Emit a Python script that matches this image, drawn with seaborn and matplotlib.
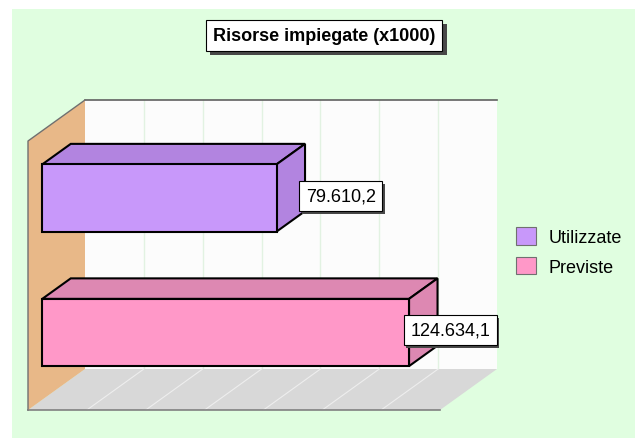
import matplotlib
matplotlib.use("Agg")
import matplotlib.pyplot as plt
import matplotlib.transforms as mtransforms
import matplotlib.patheffects as pe
from matplotlib.patches import Polygon, Rectangle, Patch
import numpy as np
import seaborn as sns

# data
categories = ["Utilizzate", "Previste"]
values = [79610.2, 124634.1]
title = "Risorse impiegate (x1000)"
x_max = 140000
grid_step = 20000

front_colors = ["#C898FA", "#FF98C8"]
shade_colors = ["#B284E0", "#DD88B2"]

FONT = "Liberation Sans"
DEPTH = np.array([-57.0, -41.0])  # pixel shift from back plane to front plane

fig = plt.figure(figsize=(6.35, 4.39), dpi=100)
fig.patch.set_facecolor("white")
fig.patches.append(Rectangle((12 / 635, 0), 1, (439 - 10) / 439, transform=fig.transFigure,
                             facecolor="#E0FEE0", edgecolor="none", zorder=-10))

ax = fig.add_axes([85 / 635, 69 / 439, 412 / 635, 269 / 439])
sns.barplot(x=values, y=categories, hue=categories, palette=front_colors, orient="h",
            width=0.5, saturation=1, edgecolor="black", linewidth=1.5, legend=False, ax=ax)
bars = list(ax.patches)
ax.set_xlim(0, x_max)
ax.set_ylim(1.5, -0.5)
ax.axis("off")

ident = mtransforms.IdentityTransform()


def proj(x, y, z):
    return ax.transData.transform((x, y)) + z * DEPTH


def poly(pts, **kw):
    p = Polygon(np.array(pts), closed=True, transform=ident, clip_on=False, **kw)
    ax.add_artist(p)
    return p


def line(pts, **kw):
    pts = np.array(pts)
    ax.add_artist(plt.Line2D(pts[:, 0], pts[:, 1], transform=ident, clip_on=False, **kw))


def shadow(txt, off):
    txt.get_bbox_patch().set_path_effects([
        pe.SimplePatchShadow(offset=off, shadow_rgbFace="#484848", alpha=1.0),
        pe.Normal()])


y_top, y_bot = -0.5, 1.5

# back wall
poly([proj(0, y_top, 0), proj(x_max, y_top, 0), proj(x_max, y_bot, 0), proj(0, y_bot, 0)],
     facecolor="#FCFCFC", edgecolor="none", zorder=0)
for gx in np.arange(grid_step, x_max, grid_step):
    line([proj(gx, y_top, 0), proj(gx, y_bot, 0)], color="#E2F2E2", lw=1.0, zorder=0.5)
line([proj(0, y_top, 0), proj(x_max, y_top, 0)], color="#606060", lw=1.2, zorder=0.6)

# floor
poly([proj(0, y_bot, 0), proj(x_max, y_bot, 0), proj(x_max, y_bot, 1), proj(0, y_bot, 1)],
     facecolor="#D8D8D8", edgecolor="none", zorder=1)
for gx in np.arange(grid_step, x_max, grid_step):
    line([proj(gx, y_bot, 0), proj(gx, y_bot, 1)], color="#EEEEEE", lw=0.8, zorder=1.1)
line([proj(0, y_bot, 1), proj(x_max, y_bot, 1)], color="#808080", lw=1.2, zorder=1.2)

# left wall
poly([proj(0, y_top, 0), proj(0, y_bot, 0), proj(0, y_bot, 1), proj(0, y_top, 1)],
     facecolor="#E8B888", edgecolor="none", zorder=1.5)
line([proj(0, y_bot, 1), proj(0, y_top, 1), proj(0, y_top, 0)], color="#707070",
     lw=1.0, zorder=1.6)

# 3d bars
z0, z1 = 0.25, 0.75
front_shift = mtransforms.ScaledTranslation(z1 * DEPTH[0] / fig.dpi, z1 * DEPTH[1] / fig.dpi,
                                            fig.dpi_scale_trans)
for i, bar in enumerate(bars):
    v = bar.get_width()
    yt = bar.get_y()
    yb = yt + bar.get_height()
    bar.set_transform(ax.transData + front_shift)
    bar.set_clip_on(False)
    bar.set_zorder(3)
    bar.set_joinstyle("miter")
    poly([proj(0, yt, z0), proj(v, yt, z0), proj(v, yt, z1), proj(0, yt, z1)],
         facecolor=shade_colors[i], edgecolor="black", lw=1.5, zorder=2.9, joinstyle="miter")
    poly([proj(v, yt, z0), proj(v, yb, z0), proj(v, yb, z1), proj(v, yt, z1)],
         facecolor=shade_colors[i], edgecolor="black", lw=1.5, zorder=2.9, joinstyle="miter")

    # value label
    label = f"{v:,.1f}".replace(",", "X").replace(".", ",").replace("X", ".")
    yc = yt + bar.get_height() / 2
    ly = proj(v, yc, 0.7)[1]
    if v + 32000 > x_max:
        lx = proj(x_max, yc, 0)[0] - 7
        ha = "right"
    else:
        lx = proj(v, yc, 0.34)[0] + 6
        ha = "left"
    t = ax.text(lx, ly, label, transform=ident, ha=ha, va="center", fontsize=13,
                family=FONT, color="black", zorder=4,
                bbox=dict(boxstyle="square,pad=0.36", facecolor="white",
                          edgecolor="black", lw=0.8))
    shadow(t, (2, -2))

# title
t = fig.text(324 / 635, 1 - 36.5 / 439, title, ha="center", va="center", fontsize=13,
             fontweight="bold", family=FONT, color="black", zorder=5,
             bbox=dict(boxstyle="square,pad=0.4", facecolor="white",
                       edgecolor="black", lw=0.8))
shadow(t, (3, -3))

# legend
handles = [Patch(facecolor=c, edgecolor="#707070", lw=0.8) for c in front_colors]
fig.legend(handles, categories, loc="upper left", bbox_to_anchor=(500 / 635, 1 - 212 / 439),
           frameon=False, prop={"family": FONT, "size": 13}, handlelength=1.1,
           handleheight=1.1, labelspacing=0.6, handletextpad=0.7)

fig.savefig("out.png", dpi=100, facecolor=fig.get_facecolor())
